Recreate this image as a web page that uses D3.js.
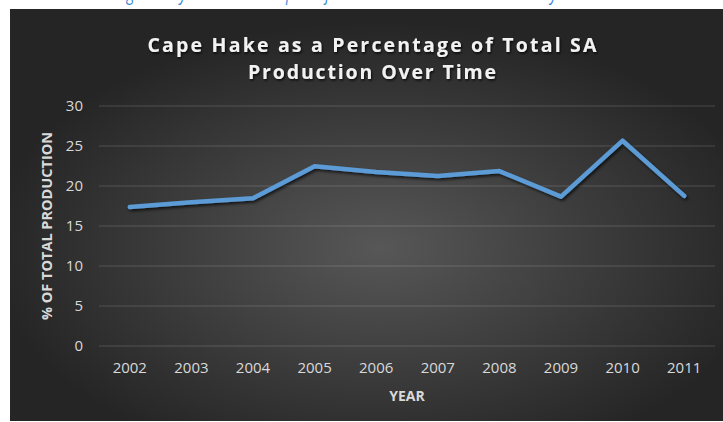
<!DOCTYPE html>
<html><head><meta charset="utf-8">
<script src="https://cdn.jsdelivr.net/npm/d3@7"></script>
<style>html,body{margin:0;padding:0;background:#fff;}svg{display:block;}</style>
</head><body>
<script>
const years = ["2002","2003","2004","2005","2006","2007","2008","2009","2010","2011"];
const values = [17.3, 17.9, 18.4, 22.4, 21.7, 21.2, 21.8, 18.6, 25.6, 18.7];
const yTicks = [0, 5, 10, 15, 20, 25, 30];
const titleLines = ["Cape Hake as a Percentage of Total SA", "Production Over Time"];
const yTitle = "% OF TOTAL PRODUCTION";
const xTitle = "YEAR";
const caption = "Figure 1 by Hake Share as part of the Total SA Hake Landed Annually";

const W = 723, H = 422;
const svg = d3.select("body").append("svg").attr("width", W).attr("height", H);
const defs = svg.append("defs");
const rg = defs.append("radialGradient").attr("id","bg").attr("cx","52%").attr("cy","58%").attr("r","55%");
rg.append("stop").attr("offset","0").attr("stop-color","#575757");
rg.append("stop").attr("offset","1").attr("stop-color","#252525");
const sh = defs.append("filter").attr("id","sh").attr("x","-10%").attr("y","-20%").attr("width","130%").attr("height","150%");
sh.append("feDropShadow").attr("dx",1.5).attr("dy",2).attr("stdDeviation",1.5).attr("flood-color","#000").attr("flood-opacity",0.7);
const tsh = defs.append("filter").attr("id","tsh").attr("x","-10%").attr("y","-30%").attr("width","130%").attr("height","170%");
tsh.append("feDropShadow").attr("dx",1).attr("dy",1.5).attr("stdDeviation",1.2).attr("flood-color","#000").attr("flood-opacity",0.8);

// caption (cropped at top edge, as in the reference)
svg.append("text").attr("x",116).attr("y",-0.5).attr("font-family","Open Sans").attr("font-style","italic")
  .attr("font-size",20).attr("fill","#3a8ad6").attr("textLength",441).attr("lengthAdjust","spacingAndGlyphs").text(caption);

svg.append("rect").attr("x",10).attr("y",9).attr("width",W-10).attr("height",412).attr("fill","url(#bg)");

const x = d3.scaleBand().domain(years).range([99, 715]);
const y = d3.scaleLinear().domain([0, 30]).range([345.5, 105.5]);

const gy = svg.append("g").attr("transform","translate(99,0)")
  .call(d3.axisLeft(y).tickValues(yTicks).tickSize(-(715-99)).tickPadding(16));
gy.select(".domain").remove();
gy.selectAll(".tick line").attr("stroke","#ffffff").attr("stroke-opacity",0.17).attr("stroke-width",1);
gy.selectAll(".tick text").attr("font-family","Open Sans").attr("font-size",15).attr("fill","#d9d9d9").attr("dy","0.36em");

const gx = svg.append("g").attr("transform","translate(0,345.5)")
  .call(d3.axisBottom(x).tickSize(0).tickPadding(17));
gx.select(".domain").remove();
gx.selectAll(".tick text").attr("font-family","Open Sans").attr("font-size",15).attr("fill","#d9d9d9");

const line = d3.line().x((d,i)=>x(years[i]) + x.bandwidth()/2).y(d=>y(d));
svg.append("path").datum(values).attr("d", line).attr("fill","none")
  .attr("stroke","#5b9bd5").attr("stroke-width",4.5).attr("stroke-linejoin","round").attr("stroke-linecap","round")
  .attr("filter","url(#sh)");

const tl = svg.append("g").attr("filter","url(#tsh)");
tl.append("text").attr("x",372).attr("y",52).attr("text-anchor","middle").attr("font-family","Open Sans").attr("font-weight","bold")
  .attr("font-size",19.5).attr("fill","#f2f2f2").attr("textLength",449).attr("lengthAdjust","spacing").text(titleLines[0]);
tl.append("text").attr("x",372).attr("y",79).attr("text-anchor","middle").attr("font-family","Open Sans").attr("font-weight","bold")
  .attr("font-size",19.5).attr("fill","#f2f2f2").attr("textLength",248).attr("lengthAdjust","spacing").text(titleLines[1]);

svg.append("text").attr("transform","translate(52,226) rotate(-90)").attr("text-anchor","middle")
  .attr("font-family","Open Sans").attr("font-weight","bold").attr("font-size",14.5).attr("fill","#d9d9d9").text(yTitle);
svg.append("text").attr("x",407).attr("y",401).attr("text-anchor","middle")
  .attr("font-family","Open Sans").attr("font-weight","bold").attr("font-size",14).attr("fill","#d9d9d9").text(xTitle);
</script>
</body></html>
